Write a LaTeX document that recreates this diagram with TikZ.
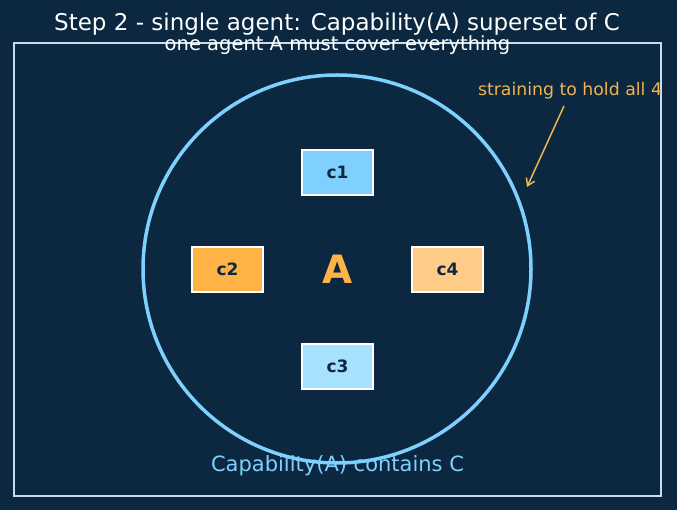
\documentclass[tikz,border=0pt]{standalone}
\usepackage{fontspec}
\setmainfont{DejaVu Sans}
\usetikzlibrary{arrows.meta}
\definecolor{bg}{HTML}{0B2840}
\definecolor{frame}{HTML}{C8DCEB}
\definecolor{ring}{HTML}{7FD0FF}
\definecolor{cA}{HTML}{7FD0FF}
\definecolor{cB}{HTML}{FFB347}
\definecolor{cC}{HTML}{A6E1FF}
\definecolor{cD}{HTML}{FFCC88}
\definecolor{note}{HTML}{F0B450}
\definecolor{ink}{HTML}{0B2840}
\tikzset{
  capbox/.style={draw=white, line width=1.8pt, minimum width=71pt, minimum height=45pt, inner sep=0pt,
    font=\fontsize{17}{20}\selectfont\bfseries, text=ink},
}
\begin{document}
\begin{tikzpicture}[x=1pt,y=-1pt]
\fill[bg] (0,0) rectangle (677,510);
\useasboundingbox (0,0) rectangle (677,510);
\draw[frame, line width=1.5pt] (14,43) rectangle (661,496);
\node[draw=ring, line width=3.5pt, circle, minimum size=388pt, inner sep=0pt] (ring) at (337,269) {};
\node[text=white, font=\fontsize{23}{27}\selectfont] (title) at (337,24) {Step 2 - single agent: Capability(A) superset of C};
\node[text=white, font=\fontsize{19.5}{23}\selectfont] (sub) at (337.5,45) {one agent A must cover everything};
\node[capbox, fill=cA] (c1) at (337.5,172.5) {c1};
\node[capbox, fill=cB] (c2) at (227.5,269.5) {c2};
\node[capbox, fill=cD] (c4) at (447.5,269.5) {c4};
\node[capbox, fill=cC] (c3) at (337.5,366.5) {c3};
\node[text=cB, font=\fontsize{39}{44}\selectfont\bfseries] (A) at (337.5,269) {A};
\node[text=ring, font=\fontsize{21}{25}\selectfont] (lab) at (337.5,466) {Capability(A) contains C};
\node[text=note, font=\fontsize{17.3}{20}\selectfont] (note) at (570,91) {straining to hold all 4};
\coordinate (tip) at (527,187);
\draw[note, line width=1.5pt, -{Straight Barb[length=7pt,width=9pt]}] (564,106) -- (tip);
\end{tikzpicture}
\end{document}
